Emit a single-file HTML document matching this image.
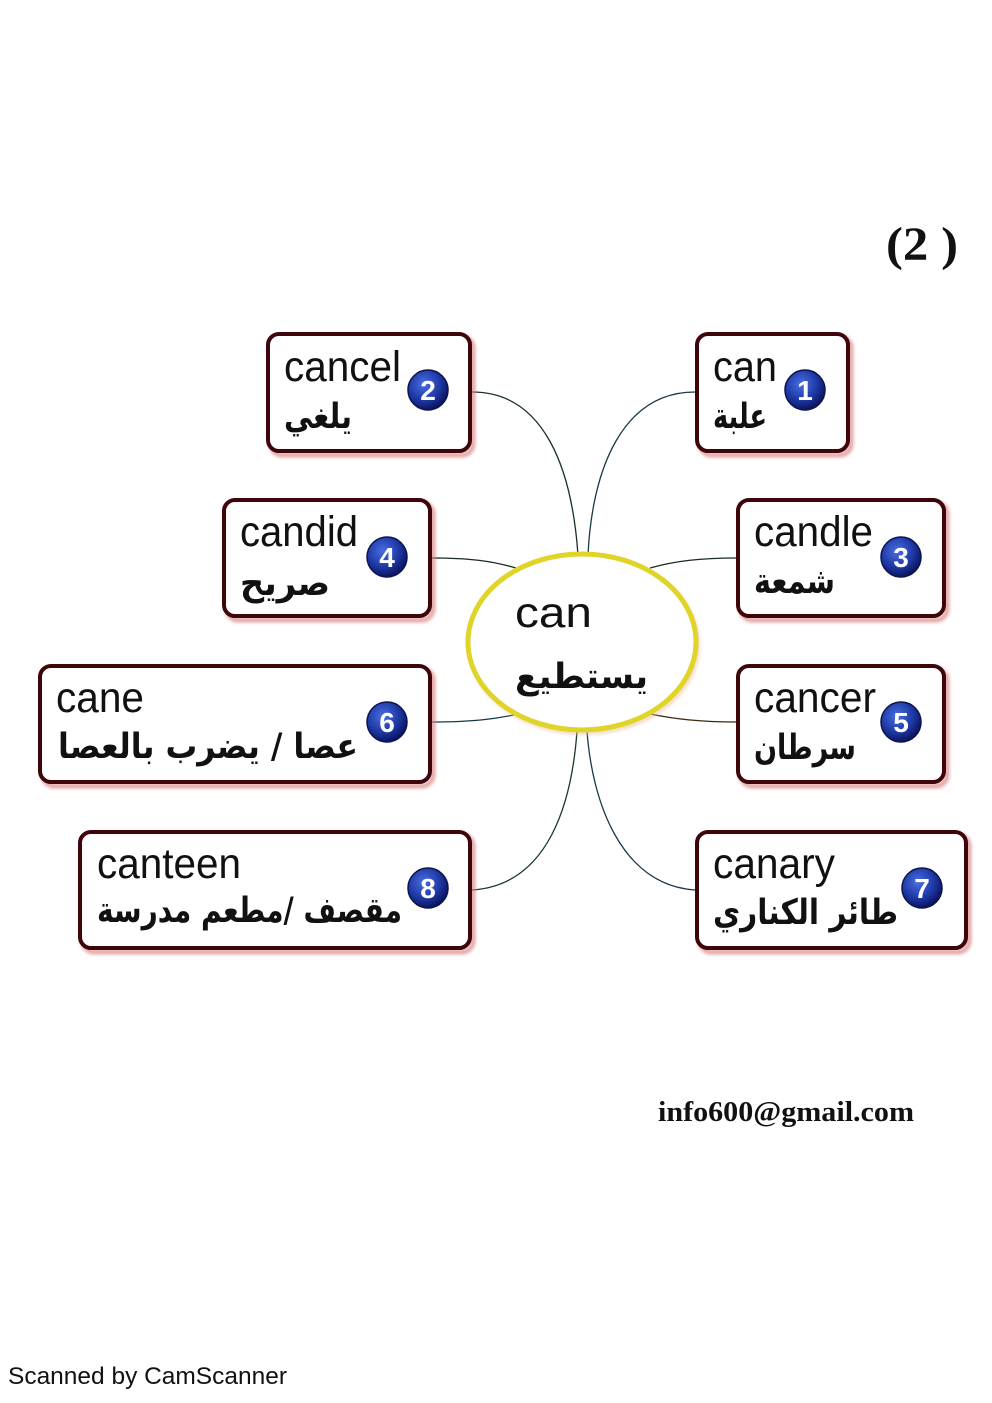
<!DOCTYPE html>
<html>
<head>
<meta charset="utf-8">
<style>
  html,body{margin:0;padding:0;background:#fff;}
  body{width:992px;height:1403px;overflow:hidden;}
  svg{display:block;}
  .en{font-family:"Liberation Sans",Arial,sans-serif;font-size:43px;fill:#111;}
  .ar{font-family:"DejaVu Sans","Liberation Sans",sans-serif;font-size:35px;font-weight:bold;fill:#111;}
  .num{font-family:"Liberation Sans",Arial,sans-serif;font-size:28px;font-weight:bold;fill:#fff;}
</style>
</head>
<body>
<svg width="992" height="1403" viewBox="0 0 992 1403" xmlns="http://www.w3.org/2000/svg">
  <defs>
    <radialGradient id="bg" cx="40%" cy="35%" r="65%">
      <stop offset="0" stop-color="#4a6ee0"/>
      <stop offset="0.6" stop-color="#1f3aa8"/>
      <stop offset="1" stop-color="#0b1560"/>
    </radialGradient>
    <filter id="sh" x="-10%" y="-10%" width="130%" height="130%">
      <feGaussianBlur stdDeviation="1.5"/>
    </filter>
  </defs>

  <!-- title -->
  <text x="886" y="260" font-family="'Liberation Serif',serif" font-weight="bold" font-size="48" fill="#111" textLength="72" lengthAdjust="spacingAndGlyphs">(2 )</text>

  <!-- connectors -->
  <g fill="none" stroke-width="1.3">
    <path d="M472,392 C545,392 572,470 578,555" stroke="#1a2f2a"/>
    <path d="M695,392 C622,392 592,470 588,555" stroke="#183a48"/>
    <path d="M432,558 C470,558 492,561 516,568" stroke="#1a2a22"/>
    <path d="M736,558 C700,558 675,561 650,568" stroke="#1a2a22"/>
    <path d="M432,722 C472,722 496,719 518,714" stroke="#183a48"/>
    <path d="M736,722 C700,722 675,719 650,714" stroke="#3a2a10"/>
    <path d="M472,890 C550,885 572,800 577,731" stroke="#1a3a22"/>
    <path d="M695,890 C620,885 592,800 587,731" stroke="#183a48"/>
  </g>

  <!-- center ellipse -->
  <ellipse cx="584" cy="645" rx="114" ry="88" fill="none" stroke="#e8c0a0" stroke-width="4" filter="url(#sh)" opacity="0.6"/>
  <ellipse cx="582" cy="642" rx="114" ry="88" fill="#fff" stroke="#e0d428" stroke-width="5"/>
  <text class="en" x="515" y="627" font-size="52" textLength="77" lengthAdjust="spacingAndGlyphs">can</text>
  <text class="ar" x="515" y="688" font-size="42" textLength="133" lengthAdjust="spacingAndGlyphs">يستطيع</text>

  <!-- boxes: shadow + border -->
  <g>
    <g fill="none" stroke="#d88080" stroke-width="5" filter="url(#sh)" opacity="0.7">
      <rect x="271" y="337" width="202" height="118" rx="11"/>
      <rect x="700" y="337" width="151" height="118" rx="11"/>
      <rect x="227" y="503" width="206" height="117" rx="11"/>
      <rect x="741" y="503" width="206" height="117" rx="11"/>
      <rect x="43" y="669" width="390" height="117" rx="11"/>
      <rect x="741" y="669" width="206" height="117" rx="11"/>
      <rect x="83" y="835" width="390" height="117" rx="11"/>
      <rect x="700" y="835" width="269" height="117" rx="11"/>
    </g>
    <g fill="#fff" stroke="#3e060a" stroke-width="4">
      <rect x="268" y="334" width="202" height="117" rx="11"/>
      <rect x="697" y="334" width="151" height="117" rx="11"/>
      <rect x="224" y="500" width="206" height="116" rx="11"/>
      <rect x="738" y="500" width="206" height="116" rx="11"/>
      <rect x="40" y="666" width="390" height="116" rx="11"/>
      <rect x="738" y="666" width="206" height="116" rx="11"/>
      <rect x="80" y="832" width="390" height="116" rx="11"/>
      <rect x="697" y="832" width="269" height="116" rx="11"/>
    </g>
  </g>

  <!-- English words -->
  <text class="en" x="284" y="381" textLength="117" lengthAdjust="spacingAndGlyphs">cancel</text>
  <text class="en" x="713" y="381" textLength="64" lengthAdjust="spacingAndGlyphs">can</text>
  <text class="en" x="240" y="546" textLength="118" lengthAdjust="spacingAndGlyphs">candid</text>
  <text class="en" x="754" y="546" textLength="119" lengthAdjust="spacingAndGlyphs">candle</text>
  <text class="en" x="56" y="712" textLength="88" lengthAdjust="spacingAndGlyphs">cane</text>
  <text class="en" x="754" y="712" textLength="122" lengthAdjust="spacingAndGlyphs">cancer</text>
  <text class="en" x="97" y="878" textLength="144" lengthAdjust="spacingAndGlyphs">canteen</text>
  <text class="en" x="713" y="878" textLength="122" lengthAdjust="spacingAndGlyphs">canary</text>

  <!-- Arabic -->
  <text class="ar" x="284" y="428" textLength="68" lengthAdjust="spacingAndGlyphs">يلغي</text>
  <text class="ar" x="713" y="428" textLength="54" lengthAdjust="spacingAndGlyphs">علبة</text>
  <text class="ar" x="240" y="595" textLength="90" lengthAdjust="spacingAndGlyphs">صريح</text>
  <text class="ar" x="754" y="593" textLength="81" lengthAdjust="spacingAndGlyphs">شمعة</text>
  <text class="ar" x="58" y="758" textLength="300" lengthAdjust="spacingAndGlyphs">عصا / يضرب بالعصا</text>
  <text class="ar" x="754" y="759" textLength="102" lengthAdjust="spacingAndGlyphs">سرطان</text>
  <text class="ar" x="97" y="922" textLength="305" lengthAdjust="spacingAndGlyphs">مقصف /مطعم مدرسة</text>
  <text class="ar" x="713" y="924" textLength="185" lengthAdjust="spacingAndGlyphs">طائر الكناري</text>

  <!-- number badges -->
  <g stroke="#0a1450" stroke-width="1.5" fill="url(#bg)">
    <circle cx="805" cy="390" r="20"/>
    <circle cx="428" cy="390" r="20"/>
    <circle cx="387" cy="557" r="20"/>
    <circle cx="901" cy="557" r="20"/>
    <circle cx="387" cy="722" r="20"/>
    <circle cx="901" cy="722" r="20"/>
    <circle cx="428" cy="888" r="20"/>
    <circle cx="922" cy="888" r="20"/>
  </g>
  <g text-anchor="middle">
    <text class="num" x="805" y="400">1</text>
    <text class="num" x="428" y="400">2</text>
    <text class="num" x="387" y="567">4</text>
    <text class="num" x="901" y="567">3</text>
    <text class="num" x="387" y="732">6</text>
    <text class="num" x="901" y="732">5</text>
    <text class="num" x="428" y="898">8</text>
    <text class="num" x="922" y="898">7</text>
  </g>

  <!-- email -->
  <text x="658" y="1121" font-family="'Liberation Serif',serif" font-weight="bold" font-size="28" fill="#111" textLength="256" lengthAdjust="spacingAndGlyphs">info600@gmail.com</text>

  <!-- footer -->
  <text x="8" y="1384" font-family="'Liberation Sans',Arial,sans-serif" font-size="24" fill="#111" textLength="279" lengthAdjust="spacingAndGlyphs">Scanned by CamScanner</text>
</svg>
</body>
</html>
